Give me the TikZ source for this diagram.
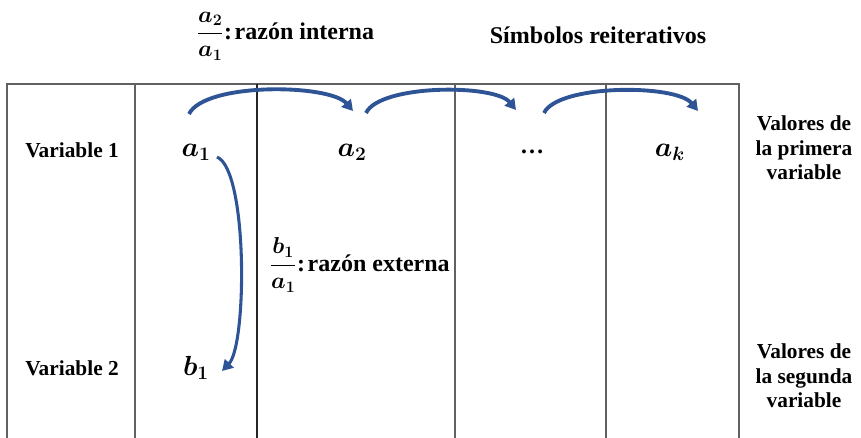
\documentclass[tikz,border=0pt]{standalone}
\usepackage{amsmath}
\usepackage{amssymb}
\usepackage{fontspec}
\setmainfont{Liberation Serif}
\usetikzlibrary{arrows.meta,positioning}
\definecolor{arcoazul}{rgb}{0.18,0.33,0.59}
\definecolor{lineagris}{rgb}{0.38,0.38,0.38}
\tikzset{
  etiqueta/.style={
    font=\bfseries\fontsize{16}{18.5}\selectfont,
    align=center,
    inner sep=1pt
  },
  valor/.style={
    font=\fontsize{20}{24}\selectfont\boldmath,
    inner sep=1pt
  },
  razon/.style={
    font=\bfseries\fontsize{18}{21}\selectfont\boldmath,
    inner sep=1pt
  },
  rejilla/.style={
    draw=lineagris,
    line width=0.8pt
  },
  flecha/.style={
    -{Triangle[length=8pt,width=9pt]},
    arcoazul,
    line width=2.9pt
  }
}

\begin{document}
\begin{tikzpicture}[x=0.75pt,y=-0.75pt]
\useasboundingbox (0,0) rectangle (861,438);
% rejilla de la tabla
\draw[rejilla] (7,438) -- (7,84) -- (739,84) -- (739,438);
\foreach \xc in {135,455,606}
  \draw[rejilla] (\xc,84) -- (\xc,438);
\draw[rejilla,draw=black!85] (257,84) -- (257,438);
% textos de arriba
\node[razon,anchor=west] (interna) at (195,36) {$\dfrac{a_2}{a_1}$:\hspace{2pt}razón interna};
\node[razon] (simbolos) at (598,35) {Símbolos reiterativos};
% filas
\node[etiqueta] (var1) at (72,150) {Variable 1};
\node[etiqueta] (var2) at (72,368) {Variable 2};
\node[valor] (a1) at (196,152) {$a_1$};
\node[valor] (a2) at (352,152) {$a_2$};
\node[valor,font=\bfseries\fontsize{18}{21}\selectfont] (puntos) at (532,152) {\ldots};
\node[valor] (ak) at (670,152) {$a_k$};
\node[valor] (b1) at (196,368) {$b_1$};
\node[razon,anchor=west] (externa) at (268,265) {$\dfrac{b_1}{a_1}$:\hspace{2pt}razón externa};
\node[etiqueta] (primera) at (804,148) {Valores de\\la primera\\variable};
\node[etiqueta] (segunda) at (804,376) {Valores de\\la segunda\\variable};
% flechas
\coordinate (s1) at (189,114);
\coordinate (e1) at (353,111);
\coordinate (s2) at (366,113);
\coordinate (e2) at (516,110);
\coordinate (s3) at (544,113);
\coordinate (e3) at (698,111);
\coordinate (sv) at (217,157);
\coordinate (ev) at (222,371);
\draw[flecha] (s1) .. controls (205,82) and (330,84) .. (e1);
\draw[flecha] (s2) .. controls (380,84) and (495,84) .. (e2);
\draw[flecha] (s3) .. controls (558,84) and (676,84) .. (e3);
\draw[flecha,line width=2.3pt] (sv) .. controls (248,170) and (247,345) .. (ev);
\end{tikzpicture}
\end{document}
